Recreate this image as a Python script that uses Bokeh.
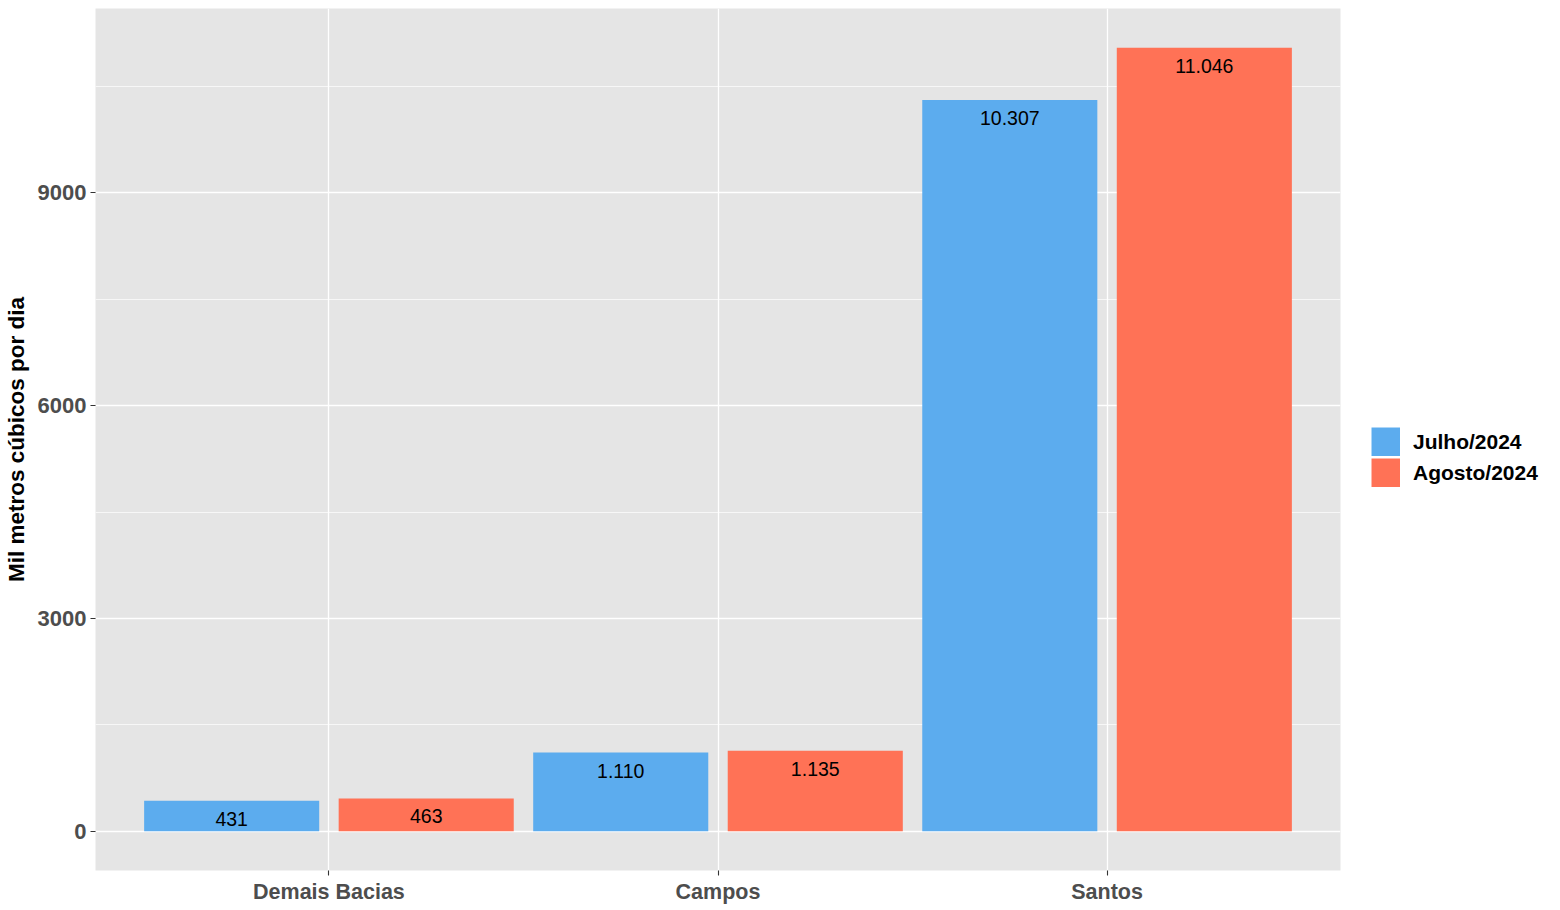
from bokeh.plotting import figure
from bokeh.models import ColumnDataSource, FactorRange, Range1d, FixedTicker, Legend, LegendItem
from bokeh.transform import dodge
from bokeh.core.properties import value
from bokeh.embed import file_html
from bokeh.resources import INLINE

categories = ["Demais Bacias", "Campos", "Santos"]
julho = [431, 1110, 10307]
agosto = [463, 1135, 11046]
series_names = ["Julho/2024", "Agosto/2024"]
colors = ["#5CACEE", "#FF7256"]
y_ticks = [0, 3000, 6000, 9000]
y_minor = [1500, 4500, 7500, 10500]
y_title = "Mil metros cúbicos por dia"

FONT = "Liberation Sans"

def fmt(v):
    return f"{v:,}".replace(",", ".")

src = ColumnDataSource(dict(
    cat=categories,
    julho=julho,
    agosto=agosto,
    julho_lbl=[fmt(v) for v in julho],
    agosto_lbl=[fmt(v) for v in agosto],
))

ymax = max(max(julho), max(agosto))
pad = 0.05 * ymax

p = figure(
    x_range=FactorRange(*categories, range_padding=0.1, range_padding_units="absolute"),
    y_range=Range1d(-pad, ymax + pad),
    frame_width=1245, frame_height=862,
    min_border_top=8, min_border_bottom=32, min_border_left=80, min_border_right=10,
    output_backend="svg", toolbar_location=None,
)
p.background_fill_color = "#E5E5E5"
p.border_fill_color = "white"
p.outline_line_color = None

r1 = p.vbar(x=dodge("cat", -0.25, range=p.x_range), top="julho", width=0.45, source=src,
            fill_color=colors[0], line_color=None)
r2 = p.vbar(x=dodge("cat", 0.25, range=p.x_range), top="agosto", width=0.45, source=src,
            fill_color=colors[1], line_color=None)

for off, col in [(-0.25, "julho"), (0.25, "agosto")]:
    p.text(x=dodge("cat", off, range=p.x_range), y=col, text=col + "_lbl", source=src,
           text_align="center", text_baseline="middle", y_offset=18,
           text_font=value(FONT), text_font_size="19.5px", text_color="black")

# legend key proxies (full-size colour squares); the NaN point draws nothing in the plot
nan = float("nan")
k1 = p.line(x=[categories[0]], y=[nan], line_color=colors[0], line_width=29, line_cap="butt")
k2 = p.line(x=[categories[0]], y=[nan], line_color=colors[1], line_width=29, line_cap="butt")

# grids
p.xgrid.grid_line_color = "white"
p.xgrid.grid_line_width = 1.3
p.ygrid.grid_line_color = "white"
p.ygrid.grid_line_width = 1.3
p.ygrid.minor_grid_line_color = "white"
p.ygrid.minor_grid_line_width = 0.7

# axes
p.yaxis.ticker = FixedTicker(ticks=y_ticks, minor_ticks=y_minor)
p.yaxis.axis_label = y_title
p.yaxis.axis_label_text_font = FONT
p.yaxis.axis_label_text_font_size = "22.5px"
p.yaxis.axis_label_text_font_style = "bold"
p.yaxis.axis_label_text_color = "black"
p.yaxis.axis_label_standoff = 6

for ax in (p.xaxis[0], p.yaxis[0]):
    ax.axis_line_color = None
    ax.major_tick_line_color = "#333333"
    ax.major_tick_line_width = 1.1
    ax.major_tick_out = 5
    ax.major_tick_in = 0
    ax.minor_tick_line_color = None
    ax.major_label_text_font = FONT
    ax.major_label_text_font_style = "bold"
    ax.major_label_text_color = "#4D4D4D"
    ax.major_label_standoff = 4
p.xaxis.major_label_text_font_size = "21.5px"
p.yaxis.major_label_text_font_size = "22px"

legend = Legend(
    items=[LegendItem(label=series_names[0], renderers=[k1]),
           LegendItem(label=series_names[1], renderers=[k2])],
    location=(31, 383), orientation="vertical",
    margin=0, padding=0, spacing=2,
    glyph_width=29, glyph_height=29, label_height=29, label_standoff=13,
    label_text_font=FONT, label_text_font_size="21px", label_text_font_style="bold",
    label_text_color="black", label_text_baseline="middle",
    border_line_color=None, background_fill_alpha=0,
)
p.add_layout(legend, "right")

open("out.html", "w").write(file_html(p, INLINE))
